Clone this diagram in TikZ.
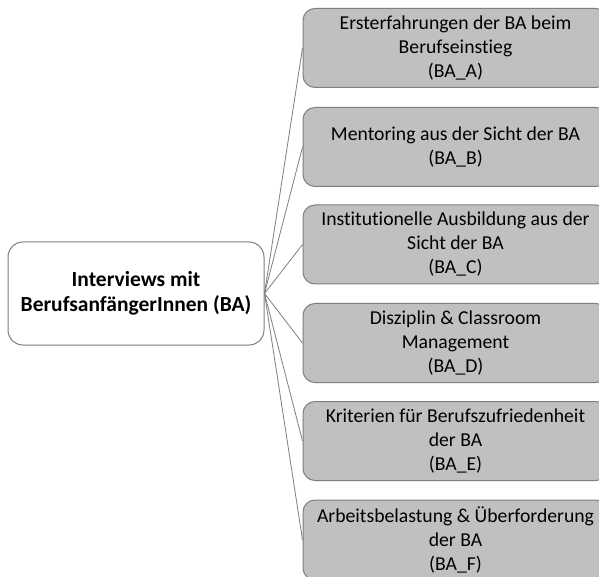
\documentclass[tikz,border=0pt]{standalone}
\usepackage{fontspec}
\setmainfont[Ligatures=NoCommon]{Carlito}
\definecolor{boxgray}{HTML}{C0C0C0}
\definecolor{edgegray}{HTML}{7F7F7F}
\tikzset{
  rootbox/.style={draw=edgegray, line width=1pt, fill=white, rounded corners=15pt,
    minimum width=256pt, minimum height=103pt, align=center, font=\fontsize{21.5}{25}\selectfont\bfseries, inner sep=0pt},
  leafbox/.style={draw=edgegray, line width=1pt, fill=boxgray, rounded corners=12pt,
    minimum width=305pt, minimum height=79pt, align=center, font=\fontsize{19.7}{24}\selectfont, inner sep=0pt},
  link/.style={draw=edgegray, line width=0.8pt}
}
\begin{document}
\begin{tikzpicture}[x=1pt,y=1pt]
\useasboundingbox (0,0) rectangle (599,576);
\clip (0,0) rectangle (599,576);
\fill[white] (0,0) rectangle (599,576);
\node[rootbox] (root) at (136,282.5) {Interviews mit\\BerufsanfängerInnen (BA)};
\node[leafbox] (a) at (455.5,528) {Ersterfahrungen der BA beim\\Berufseinstieg\\(BA\_A)};
\node[leafbox] (b) at (455.5,429) {Mentoring aus der Sicht der BA\\(BA\_B)};
\node[leafbox] (c) at (455.5,331.5) {Institutionelle Ausbildung aus der\\Sicht der BA\\(BA\_C)};
\node[leafbox] (d) at (455.5,233) {Disziplin \& Classroom\\Management\\(BA\_D)};
\node[leafbox] (e) at (455.5,135) {Kriterien für Berufszufriedenheit\\der BA\\(BA\_E)};
\node[leafbox, minimum height=80pt] (f) at (455.5,36) {Arbeitsbelastung \& Überforderung\\der BA\\(BA\_F)};
\foreach \n in {a,b,c,d,e,f}{
  \draw[link] (root.east) -- (\n.west);
}
\end{tikzpicture}
\end{document}
